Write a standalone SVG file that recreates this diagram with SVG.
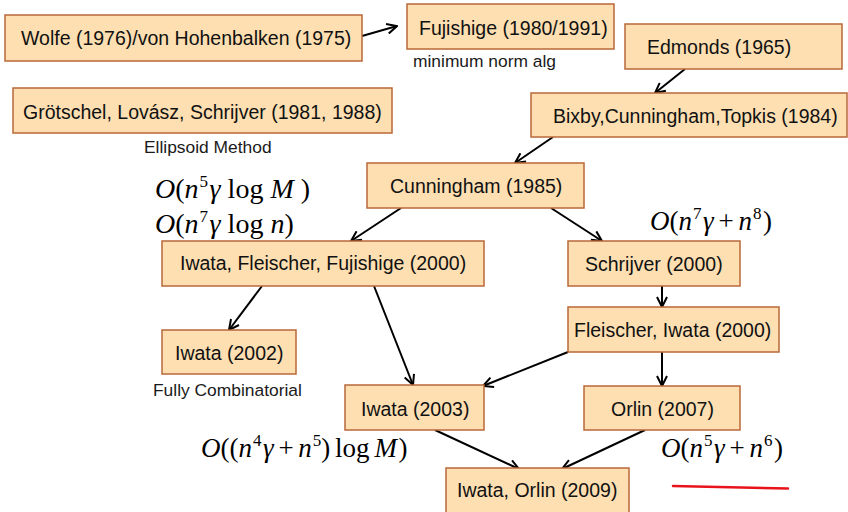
<svg xmlns="http://www.w3.org/2000/svg" width="848" height="512" viewBox="0 0 848 512">
  <style>
    .box rect { fill: #FDDFB1; stroke: #B8683A; stroke-width: 1.5; }
    .box text { font-family: "Liberation Sans", Arial, sans-serif; font-size: 19.5px; fill: #111; }
    .note { font-family: "Liberation Sans", Arial, sans-serif; font-size: 17.4px; fill: #1a1a1a; }
    .math { font-family: "Liberation Serif", "Times New Roman", serif; font-size: 27px; fill: #000; word-spacing: -2px; }
    .math.big { font-size: 28px; word-spacing: 0; }
    .math .i { font-style: italic; }
    .math .sup { font-size: 17px; }
    .edge { stroke: #000; stroke-width: 2; fill: none; marker-end: url(#arrow); }
  </style>
  <defs>
    <marker id="arrow" viewBox="0 0 12 12" refX="11" refY="6" markerWidth="12" markerHeight="12" markerUnits="userSpaceOnUse" orient="auto">
      <path d="M1,1 L11,6 L1,11" fill="none" stroke="#000" stroke-width="2"/>
    </marker>
  </defs>

  <rect width="848" height="512" fill="#fff"/>

  <!-- connectors -->
  <g id="connectors">
    <line class="edge" x1="362" y1="36" x2="397" y2="26"/>
    <line class="edge" x1="685" y1="69" x2="655" y2="93"/>
    <line class="edge" x1="553" y1="137" x2="515" y2="163"/>
    <line class="edge" x1="401" y1="208" x2="351" y2="241"/>
    <line class="edge" x1="551" y1="208" x2="602" y2="241"/>
    <line class="edge" x1="262" y1="286" x2="229" y2="330"/>
    <line class="edge" x1="374" y1="286" x2="413" y2="385"/>
    <line class="edge" x1="662" y1="286" x2="662" y2="307"/>
    <line class="edge" x1="568" y1="352" x2="483" y2="386"/>
    <line class="edge" x1="662" y1="352" x2="662" y2="386"/>
    <line class="edge" x1="435" y1="430" x2="519" y2="469"/>
    <line class="edge" x1="645" y1="430" x2="562" y2="469"/>
  </g>

  <!-- nodes -->
  <g id="wolfe" class="box">
    <rect x="5" y="15" width="357" height="46"/>
    <text x="21" y="44.5">Wolfe (1976)/von Hohenbalken (1975)</text>
  </g>
  <g id="fujishige" class="box">
    <rect x="407" y="4" width="207" height="45"/>
    <text x="419" y="34.5">Fujishige (1980/1991)</text>
  </g>
  <g id="edmonds" class="box">
    <rect x="625" y="24" width="217" height="45"/>
    <text x="647" y="54">Edmonds (1965)</text>
  </g>
  <g id="gls" class="box">
    <rect x="13" y="88" width="379" height="45"/>
    <text x="23" y="118.5">Grötschel, Lovász, Schrijver (1981, 1988)</text>
  </g>
  <g id="bct" class="box">
    <rect x="531" y="93" width="316" height="44"/>
    <text x="553" y="122.5">Bixby,Cunningham,Topkis (1984)</text>
  </g>
  <g id="cunningham" class="box">
    <rect x="367" y="163" width="217" height="45"/>
    <text x="390" y="192.5">Cunningham (1985)</text>
  </g>
  <g id="iff" class="box">
    <rect x="162" y="241" width="322" height="45"/>
    <text x="180" y="270">Iwata, Fleischer, Fujishige (2000)</text>
  </g>
  <g id="schrijver" class="box">
    <rect x="568" y="241" width="172" height="45"/>
    <text x="585" y="270.5">Schrijver (2000)</text>
  </g>
  <g id="fleischer-iwata" class="box">
    <rect x="568" y="307" width="211" height="45"/>
    <text x="574" y="337">Fleischer, Iwata (2000)</text>
  </g>
  <g id="iwata2002" class="box">
    <rect x="162" y="330" width="134" height="44"/>
    <text x="175" y="359.5">Iwata (2002)</text>
  </g>
  <g id="iwata2003" class="box">
    <rect x="345" y="385" width="139" height="45"/>
    <text x="361" y="415.5">Iwata (2003)</text>
  </g>
  <g id="orlin" class="box">
    <rect x="584" y="386" width="156" height="44"/>
    <text x="611" y="415.5">Orlin (2007)</text>
  </g>
  <g id="iwata-orlin" class="box">
    <rect x="446" y="468" width="183" height="46"/>
    <text x="457" y="497">Iwata, Orlin (2009)</text>
  </g>

  <!-- annotations -->
  <text class="note" x="413" y="67">minimum norm alg</text>
  <text class="note" x="144" y="153">Ellipsoid Method</text>
  <text class="note" x="153" y="396">Fully Combinatorial</text>

  <!-- running times -->
  <text class="math big" x="155" y="198"><tspan class="i">O</tspan>(<tspan class="i">n</tspan><tspan class="sup" dx="1" dy="-11">5</tspan><tspan class="i" dx="1.5" dy="11">γ</tspan> log <tspan class="i">M</tspan> )</text>
  <text class="math big" x="155" y="233"><tspan class="i">O</tspan>(<tspan class="i">n</tspan><tspan class="sup" dx="1" dy="-11">7</tspan><tspan class="i" dx="1.5" dy="11">γ</tspan> log <tspan class="i">n</tspan>)</text>
  <text class="math" x="650" y="230"><tspan class="i">O</tspan>(<tspan class="i">n</tspan><tspan class="sup" dx="1" dy="-11">7</tspan><tspan class="i" dx="1.5" dy="11">γ</tspan> + <tspan class="i">n</tspan><tspan class="sup" dx="1" dy="-11">8</tspan><tspan dx="1.5" dy="11">)</tspan></text>
  <text class="math" x="201" y="457"><tspan class="i">O</tspan>((<tspan class="i">n</tspan><tspan class="sup" dx="1" dy="-11">4</tspan><tspan class="i" dx="1.5" dy="11">γ</tspan> + <tspan class="i">n</tspan><tspan class="sup" dx="1" dy="-11">5</tspan><tspan dy="11">)</tspan> log <tspan class="i">M</tspan><tspan dx="1.5">)</tspan></text>
  <text class="math" x="661" y="457"><tspan class="i">O</tspan>(<tspan class="i">n</tspan><tspan class="sup" dx="1" dy="-11">5</tspan><tspan class="i" dx="1.5" dy="11">γ</tspan> + <tspan class="i">n</tspan><tspan class="sup" dx="1" dy="-11">6</tspan><tspan dx="1.5" dy="11">)</tspan></text>

  <!-- red underline stroke -->
  <line x1="673" y1="486" x2="788" y2="488.5" stroke="#E8131B" stroke-width="2.5" stroke-linecap="round"/>
</svg>
